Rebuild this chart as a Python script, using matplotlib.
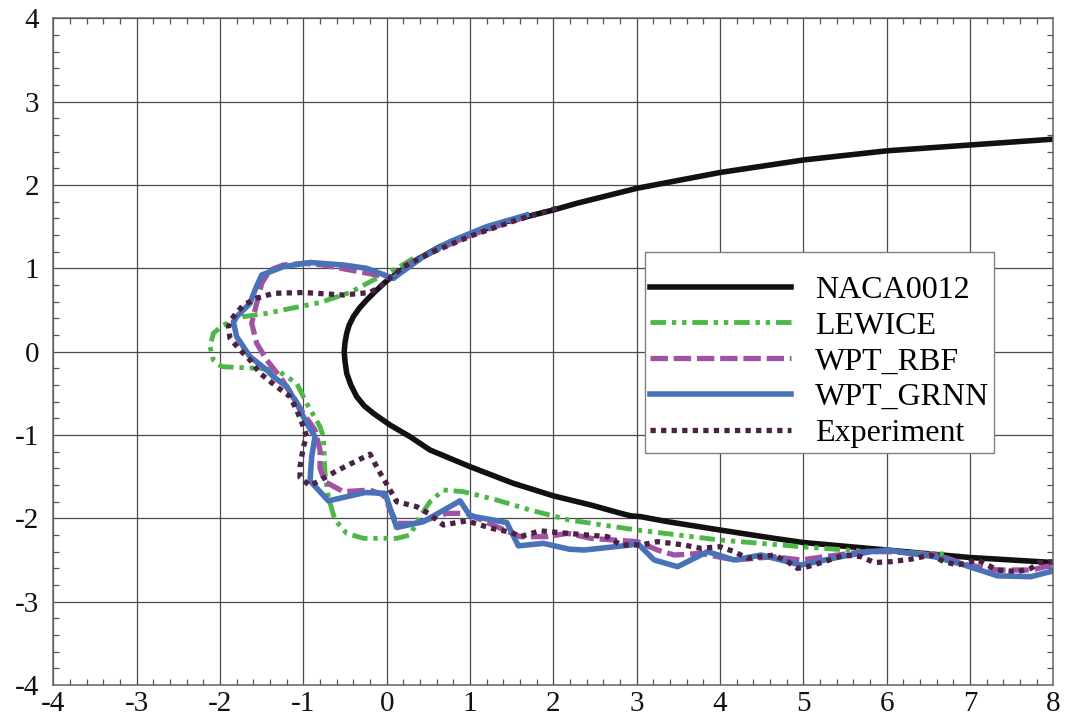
import matplotlib
matplotlib.use("Agg")
import matplotlib.pyplot as plt
from matplotlib.ticker import MultipleLocator

plt.rcParams['font.family'] = ['Liberation Serif', 'DejaVu Serif']
plt.rcParams['axes.unicode_minus'] = False

# Airfoil contour (upper surface from trailing side to leading edge, then lower surface)
naca_x = [8.0, 7.0, 6.0, 5.0, 4.0, 3.0, 2.28, 2.0, 1.44, 1.0, 0.64, 0.32, 0.0,
          -0.13, -0.24, -0.33, -0.40, -0.45, -0.48, -0.50, -0.51, -0.50, -0.48,
          -0.43, -0.36, -0.27, -0.16, -0.06, 0.04,
          0.28, 0.52, 1.0, 1.52, 2.0, 2.45, 2.81, 2.93, 3.05, 3.37, 4.0, 4.65,
          5.0, 6.0, 7.0, 8.0]
naca_y = [2.55, 2.48, 2.41, 2.30, 2.15, 1.96, 1.78, 1.70, 1.56, 1.41, 1.26, 1.08,
          0.85, 0.73, 0.62, 0.52, 0.42, 0.32, 0.22, 0.11, 0.0, -0.12, -0.26,
          -0.40, -0.54, -0.65, -0.74, -0.81, -0.88,
          -1.02, -1.18, -1.38, -1.58, -1.73, -1.84, -1.94, -1.97, -1.98, -2.04,
          -2.14, -2.24, -2.29, -2.38, -2.47, -2.53]

# LEWICE ice shape
lewice_x = [0.32, 0.12, -0.16, -0.44, -0.80, -1.00, -1.44, -1.72, -1.96, -2.08,
            -2.12, -2.08, -1.98, -1.56, -1.32, -1.08, -0.96, -0.80, -0.76, -0.74,
            -0.70, -0.62, -0.48, -0.28, 0.12, 0.28, 0.40, 0.52, 0.68, 0.92, 1.32,
            1.72, 2.19, 3.00, 4.00, 4.97, 5.65, 6.00, 6.73]
lewice_y = [1.12, 1.00, 0.86, 0.71, 0.59, 0.55, 0.46, 0.42, 0.32, 0.22,
            0.06, -0.10, -0.18, -0.20, -0.22, -0.38, -0.62, -0.90, -1.02, -1.46,
            -1.75, -2.02, -2.18, -2.24, -2.24, -2.20, -1.98, -1.80, -1.66, -1.68,
            -1.78, -1.90, -2.02, -2.14, -2.26, -2.34, -2.39, -2.40, -2.43]

# WPT_RBF prediction
rbf_x = [1.68, 1.36, 0.96, 0.56, 0.28, 0.08, -0.12, -0.44, -0.76, -1.00, -1.24,
         -1.40, -1.50, -1.54, -1.58, -1.62, -1.56, -1.44, -1.28, -1.12, -1.00,
         -0.86, -0.80, -0.80, -0.74, -0.52, -0.20, -0.04, 0.12, 0.36, 0.72, 0.96,
         1.32, 1.60, 1.92, 2.17, 2.45, 3.01, 3.25, 3.45, 3.77, 4.17, 4.65, 4.97,
         5.25, 5.73, 6.05, 6.61, 6.97, 7.33, 7.73, 8.00]
rbf_y = [1.62, 1.52, 1.38, 1.20, 1.06, 0.88, 0.92, 0.98, 1.04, 1.06, 1.04,
         0.98, 0.82, 0.66, 0.50, 0.34, 0.10, -0.10, -0.30, -0.54, -0.74,
         -0.94, -1.18, -1.40, -1.56, -1.68, -1.66, -1.72, -2.06, -2.06, -1.94, -1.94,
         -2.10, -2.22, -2.22, -2.18, -2.24, -2.28, -2.38, -2.44, -2.42, -2.50, -2.46,
         -2.50, -2.46, -2.40, -2.40, -2.44, -2.56, -2.62, -2.62, -2.56]

# WPT_GRNN prediction
grnn_x = [1.68, 1.20, 0.76, 0.44, 0.16, 0.08, -0.08, -0.24, -0.52, -0.92, -1.24,
          -1.50, -1.58, -1.64, -1.80, -1.84, -1.80, -1.64, -1.44, -1.36, -1.20,
          -1.08, -0.96, -0.86, -0.90, -0.92, -0.70, -0.26, -0.02, 0.12, 0.44, 0.88,
          1.00, 1.44, 1.58, 1.88, 2.19, 2.37, 2.93, 3.01, 3.21, 3.49, 3.85, 4.17,
          4.49, 4.97, 5.45, 5.81, 6.01, 6.57, 6.93, 7.33, 7.73, 8.00]
grnn_y = [1.64, 1.50, 1.32, 1.14, 0.94, 0.88, 0.94, 1.00, 1.04, 1.07, 1.02,
          0.92, 0.74, 0.58, 0.42, 0.36, 0.18, -0.06, -0.22, -0.30, -0.42,
          -0.62, -0.86, -1.02, -1.26, -1.55, -1.79, -1.69, -1.70, -2.11, -2.04, -1.79,
          -1.97, -2.05, -2.33, -2.30, -2.37, -2.38, -2.32, -2.30, -2.50, -2.58, -2.40,
          -2.50, -2.44, -2.56, -2.46, -2.40, -2.38, -2.46, -2.56, -2.69, -2.70, -2.63]

# Experimental ice shape
exp_x = [2.04, 1.56, 1.04, 0.56, 0.20, -0.08, -0.20, -0.52, -1.00, -1.36, -1.56,
         -1.72, -1.84, -1.90, -1.88, -1.76, -1.64, -1.52, -1.32, -1.16, -1.08,
         -1.00, -0.96, -1.00, -1.04, -1.04, -0.92, -0.60, -0.20, -0.10, 0.00, 0.12,
         0.36, 0.50, 0.68, 0.96, 1.26, 1.50, 1.60, 1.84, 2.17, 2.65, 2.81, 3.05,
         3.25, 3.57, 3.77, 4.00, 4.17, 4.33, 4.65, 4.81, 4.93, 5.05, 5.25, 5.49,
         5.69, 5.85, 6.05, 6.29, 6.53, 6.69, 6.85, 7.09, 7.33, 7.57, 7.73, 7.83, 8.00]
exp_y = [1.72, 1.58, 1.40, 1.20, 1.02, 0.78, 0.71, 0.68, 0.71, 0.70, 0.64,
         0.56, 0.42, 0.30, 0.16, 0.02, -0.10, -0.26, -0.42, -0.54, -0.70,
         -0.90, -1.02, -1.14, -1.38, -1.51, -1.61, -1.43, -1.23, -1.42, -1.59, -1.80,
         -1.86, -1.94, -2.08, -2.03, -2.12, -2.17, -2.22, -2.15, -2.18, -2.22, -2.32, -2.32,
         -2.28, -2.32, -2.36, -2.34, -2.40, -2.48, -2.44, -2.52, -2.60, -2.58, -2.52, -2.44,
         -2.46, -2.53, -2.52, -2.49, -2.44, -2.52, -2.56, -2.50, -2.62, -2.64, -2.60, -2.53, -2.52]

x_ticks = [-4, -3, -2, -1, 0, 1, 2, 3, 4, 5, 6, 7, 8]
y_ticks = [-4, -3, -2, -1, 0, 1, 2, 3, 4]

fig = plt.figure(figsize=(10.65, 7.21), dpi=100)
ax = fig.add_axes([0.0501, 0.0499, 0.939, 0.9247])

ax.plot(naca_x, naca_y, color='#111111', lw=4.0, label='NACA0012', solid_joinstyle='round')
ax.plot(lewice_x, lewice_y, color='#4DB848', lw=3.5, label='LEWICE',
        dashes=(3.2, 1.2, 0.9, 1.2, 0.9, 1.2), dash_capstyle='butt')
ax.plot(rbf_x, rbf_y, color='#A052A3', lw=3.8, label='WPT_RBF',
        dashes=(3.3, 1.1), dash_capstyle='butt')
ax.plot(grnn_x, grnn_y, color='#4A72B8', lw=4.0, label='WPT_GRNN', solid_joinstyle='round')
ax.plot(exp_x, exp_y, color='#4B2246', lw=3.8, label='Experiment',
        dashes=(1.0, 1.0), dash_capstyle='butt')

ax.set_xlim(-4, 8)
ax.set_ylim(-4, 4)
ax.set_xticks(x_ticks)
ax.set_yticks(y_ticks)
ax.set_xticklabels([str(v) for v in x_ticks])
ax.set_yticklabels([str(v) for v in y_ticks])
ax.xaxis.set_minor_locator(MultipleLocator(0.2))
ax.yaxis.set_minor_locator(MultipleLocator(0.2))
ax.tick_params(which='both', direction='in', top=True, right=True, colors='#555555',
               labelcolor='#111111')
ax.tick_params(which='major', length=0, labelsize=21)
ax.tick_params(axis='x', which='major', pad=4)
ax.tick_params(axis='y', which='major', pad=10)
ax.tick_params(which='minor', length=4.5, width=0.9)
ax.grid(True, which='major', color='#4a4a4a', lw=0.9)
ax.set_axisbelow(True)
for s in ax.spines.values():
    s.set_color('#666666')
    s.set_linewidth(1.1)

leg = ax.legend(loc='upper left', bbox_to_anchor=(0.592, 0.649), borderaxespad=0,
                fontsize=23, handlelength=4.4, handletextpad=0.75, labelspacing=0.2,
                borderpad=0.15, fancybox=False, framealpha=1, edgecolor='#808080',
                title=' ', title_fontsize=9)
leg.get_frame().set_linewidth(1.0)

fig.savefig('out.png', dpi=100)
